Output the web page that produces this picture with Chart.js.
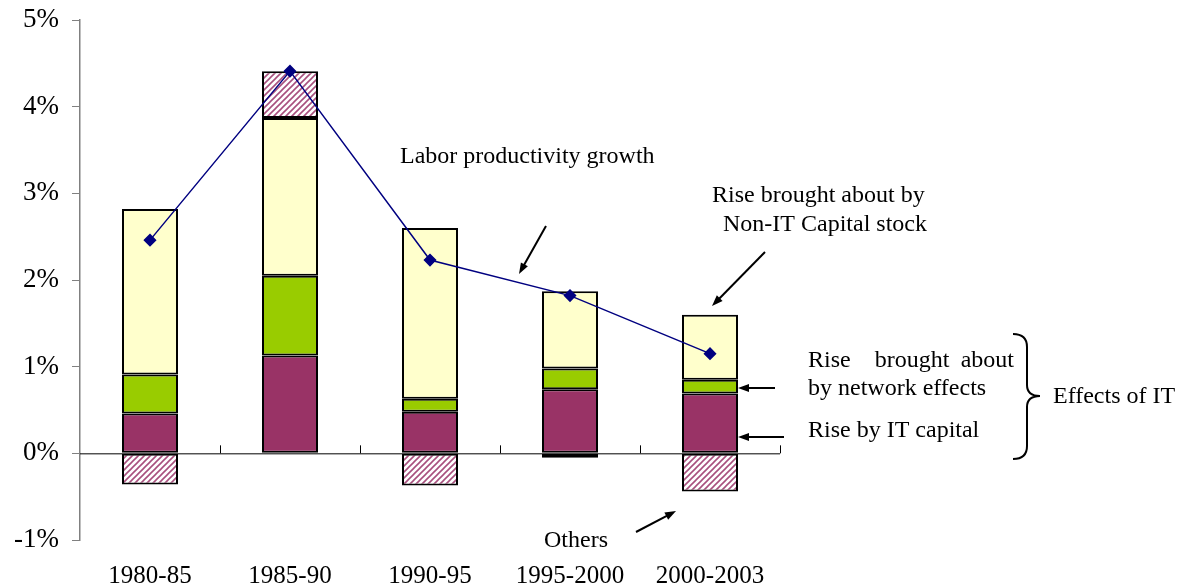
<!DOCTYPE html>
<html>
<head>
<meta charset="utf-8">
<script src="https://cdn.jsdelivr.net/npm/chart.js@4"></script>
<style>
  body { margin: 0; background: #fff; }
</style>
</head>
<body>
<canvas id="chart" width="1184" height="586"></canvas>
<script>
const categories = ['1980-85', '1985-90', '1990-95', '1995-2000', '2000-2003'];
const itCapital = [0.46, 1.13, 0.48, 0.74, 0.69];
const networkEffects = [0.45, 0.92, 0.15, 0.24, 0.16];
const nonItCapital = [1.91, 1.82, 1.97, 0.89, 0.75];
const others = [-0.36, 0.54, -0.37, -0.05, -0.44];
const laborProductivity = [2.46, 4.41, 2.23, 1.82, 1.15];
const yMin = -1, yMax = 5;

const FONT = '"Liberation Serif", "Times New Roman", serif';

// hatch for "Others"
function hatch() {
    const c = document.createElement('canvas');
    c.width = 6; c.height = 6;
    const g = c.getContext('2d');
    g.fillStyle = '#fff';
    g.fillRect(0, 0, 6, 6);
    g.strokeStyle = '#a8507e';
    g.lineWidth = 1.6;
    g.beginPath();
    g.moveTo(-1, 7); g.lineTo(7, -1);
    g.moveTo(-4, 4); g.lineTo(4, -4);
    g.moveTo(2, 10); g.lineTo(10, 2);
    g.stroke();
    return g.createPattern(c, 'repeat');
}

function arrow(ctx, x1, y1, x2, y2) {
    const a = Math.atan2(y2 - y1, x2 - x1);
    const len = 11, w = 4;
    ctx.beginPath();
    ctx.moveTo(x1, y1);
    ctx.lineTo(x2 - Math.cos(a) * len * 0.8, y2 - Math.sin(a) * len * 0.8);
    ctx.stroke();
    ctx.beginPath();
    ctx.moveTo(x2, y2);
    ctx.lineTo(x2 - Math.cos(a) * len + Math.sin(a) * w, y2 - Math.sin(a) * len - Math.cos(a) * w);
    ctx.lineTo(x2 - Math.cos(a) * len - Math.sin(a) * w, y2 - Math.sin(a) * len + Math.cos(a) * w);
    ctx.closePath();
    ctx.fill();
}

// zero line with category ticks
const zeroAxis = {
    id: 'zeroAxis',
    beforeDatasetsDraw(chart) {
        const ctx = chart.ctx, x = chart.scales.x, y = chart.scales.y;
        const y0 = y.getPixelForValue(0);
        const half = (x.getPixelForValue(1) - x.getPixelForValue(0)) / 2;
        ctx.save();
        ctx.strokeStyle = '#000';
        ctx.lineWidth = 1;
        ctx.beginPath();
        ctx.moveTo(chart.chartArea.left, y0 + 0.5);
        ctx.lineTo(chart.chartArea.right, y0 + 0.5);
        categories.forEach((c, i) => {
            const px = Math.round(x.getPixelForValue(i) + half) + 0.5;
            ctx.moveTo(px, y0);
            ctx.lineTo(px, y0 - 8);
        });
        ctx.stroke();
        ctx.restore();
    }
};

// text notes and arrows
const notes = {
    id: 'notes',
    afterDraw(chart) {
        const ctx = chart.ctx;
        ctx.save();
        ctx.fillStyle = '#000';
        ctx.strokeStyle = '#000';
        ctx.font = '24px ' + FONT;
        ctx.textBaseline = 'middle';
        ctx.textAlign = 'left';
        ctx.fillText('Labor productivity growth', 400, 157);
        ctx.fillText('Rise brought about by', 712, 196);
        ctx.fillText('Non-IT Capital stock', 723, 225);
        ctx.fillText('by network effects', 808, 389);
        ctx.fillText('Rise by IT capital', 808, 431);
        ctx.fillText('Effects of IT', 1053, 397);
        ctx.fillText('Others', 544, 541);
        // justified line
        ctx.fillText('Rise', 808, 361);
        ctx.textAlign = 'right';
        ctx.fillText('about', 1014, 361);
        ctx.textAlign = 'center';
        ctx.fillText('brought', 912, 361);

        ctx.lineWidth = 2;
        arrow(ctx, 546, 226, 519, 274);
        arrow(ctx, 765, 252, 712, 306);
        arrow(ctx, 775, 388, 738, 388);
        arrow(ctx, 784, 437, 738, 437);
        arrow(ctx, 636, 532, 676, 511);

        // brace
        ctx.lineWidth = 2;
        ctx.beginPath();
        ctx.moveTo(1013, 334);
        ctx.quadraticCurveTo(1027, 334, 1027, 347);
        ctx.lineTo(1027, 385);
        ctx.quadraticCurveTo(1027, 396, 1040, 396);
        ctx.quadraticCurveTo(1027, 396, 1027, 407);
        ctx.lineTo(1027, 446);
        ctx.quadraticCurveTo(1027, 459, 1013, 459);
        ctx.stroke();
        ctx.restore();
    }
};

const barStyle = { borderColor: '#000', borderWidth: 2, borderSkipped: false, barPercentage: 0.4, categoryPercentage: 1, stack: 'bars', order: 1 };

new Chart(document.getElementById('chart').getContext('2d'), {
    type: 'bar',
    data: {
        labels: categories,
        datasets: [
            { type: 'line', label: 'Labor productivity growth', data: laborProductivity, borderColor: '#000080', backgroundColor: '#000080',
              borderWidth: 1.5, pointStyle: 'rectRot', pointRadius: 5.5, stack: 'line', order: 0 },
            { label: 'Rise by IT capital', data: itCapital, backgroundColor: '#993366', ...barStyle },
            { label: 'Rise brought about by network effects', data: networkEffects, backgroundColor: '#99CC00', ...barStyle },
            { label: 'Rise brought about by Non-IT Capital stock', data: nonItCapital, backgroundColor: '#FFFFCC', ...barStyle },
            { label: 'Others', data: others, backgroundColor: hatch(), ...barStyle }
        ]
    },
    options: {
        responsive: false,
        animation: false,
        devicePixelRatio: 1,
        layout: { padding: { left: 0, right: 404, top: 0, bottom: 0 } },
        plugins: { legend: { display: false }, tooltip: { enabled: false } },
        scales: {
            x: {
                stacked: true,
                grid: { display: false, drawTicks: false },
                border: { display: false },
                ticks: { color: '#000', font: { family: FONT, size: 25 }, padding: 21 },
                afterFit: s => { s.height = 46; }
            },
            y: {
                stacked: true,
                min: yMin, max: yMax,
                grid: { drawOnChartArea: false, tickLength: 8, color: '#808080' },
                border: { color: '#808080', width: 1.5 },
                ticks: { stepSize: 1, color: '#000', font: { family: FONT, size: 27 }, padding: 13,
                         callback: v => v + '%' },
                afterFit: s => { s.width = 80; s.paddingTop = 20; s.paddingBottom = 0; }
            }
        }
    },
    plugins: [zeroAxis, notes]
});
</script>
</body>
</html>
